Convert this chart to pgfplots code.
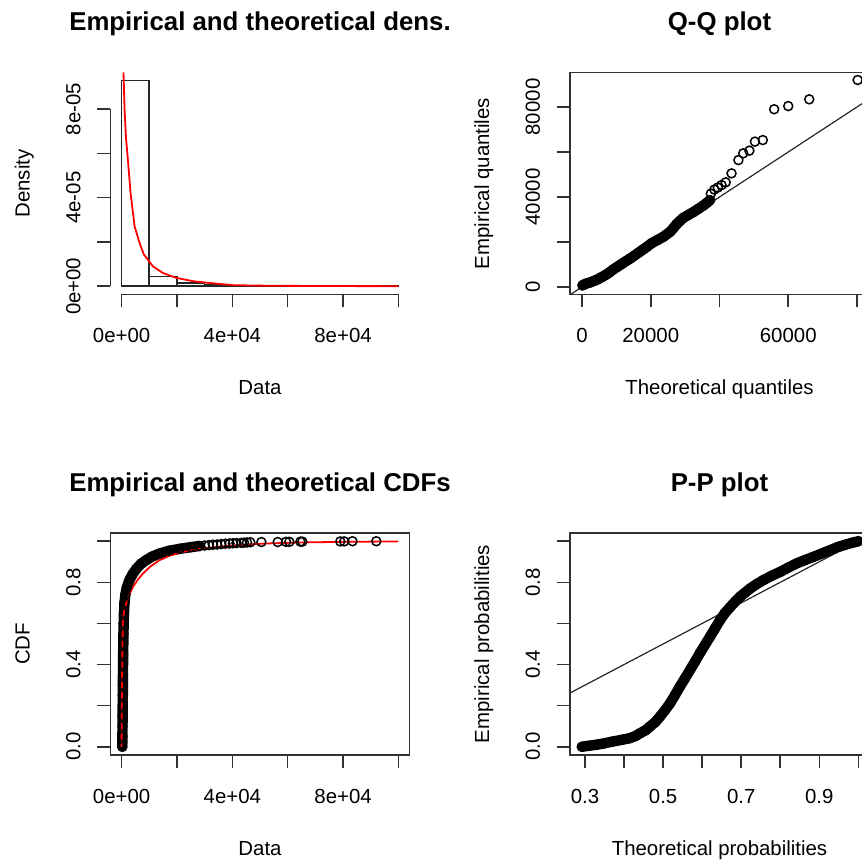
\documentclass[border=0pt]{standalone}
\usepackage{graphicx}
\usepackage{fontspec}
\setmainfont{Liberation Sans}
\usepackage{pgfplots}
\pgfplotsset{compat=1.18}
\newcommand\tickfont{\fontsize{10.2}{12}\selectfont}
\newcommand\titfont{\fontsize{12.9}{14}\selectfont\bfseries}
\newcommand\rl[1]{\rotatebox{90}{#1}\hspace*{8.25pt}}
\definecolor{axc}{gray}{0.2}
\pgfplotsset{
  rstyle/.style={
    scale only axis, width=149.5pt, height=111pt,
    clip=false,
    axis line style={line width=0.8pt, draw=axc},
    every tick/.style={line width=0.8pt, draw=axc},
    tick align=outside, tick pos=left,
    major tick length=6.5pt,
    scaled ticks=false,
    xticklabel style={anchor=base, font=\tickfont, inner sep=0pt},
    yticklabel style={anchor=east, font=\tickfont, inner sep=0pt},
    xticklabel shift=17.75pt, yticklabel shift=0pt,
    every axis x label/.style={at={(axis description cs:0.5,0)}, anchor=base, yshift=-50.25pt, font=\tickfont},
    every axis y label/.style={at={(axis description cs:-0.2709,0.5)}, rotate=90, anchor=base, font=\tickfont},
    every axis title/.style={at={(axis description cs:0.5,1)}, anchor=base, yshift=20.75pt, font=\titfont},
  },
  band/.style={black, line width=5.2pt, line cap=round, line join=round},
  circ/.style={only marks, mark=o, mark size=2.25pt, mark options={line width=0.75pt, draw=black}},
}
\begin{document}
\begin{tikzpicture}
\useasboundingbox (0,0) rectangle (431pt,431pt);

% ---------- Panel 1: density (y axis in units of 1e-5) ----------
\begin{axis}[rstyle, at={(55.25pt,283.75pt)}, anchor=south west,
  y filter/.expression={y*100000},
  xmin=-4000, xmax=104000, ymin=-0.37, ymax=9.65,
  axis x line*=bottom, axis y line*=left,
  x axis line style={-, shorten <=5.535pt, shorten >=5.535pt},
  y axis line style={-, shorten <=4.1pt, shorten >=18.28pt},
  xtick={0,20000,40000,60000,80000,100000},
  xticklabels={0e+00,,4e+04,,8e+04,},
  ytick={0,2,4,6,8},
  yticklabels={\rl{0e+00},,\rl{4e-05},,\rl{8e-05}},
  title={Empirical and theoretical dens.}, xlabel={Data}, ylabel={Density}]
\addplot[ybar interval, draw=black!85, fill=none, line width=0.8pt] coordinates {
 (0,9.29e-5) (10000,4.5e-6) (20000,1.5e-6) (30000,0.9e-6) (40000,0.2e-6)
 (50000,0.1e-6) (60000,0.15e-6) (70000,0.05e-6) (80000,0.1e-6) (90000,0.05e-6) (100000,0)};
\addplot[red, line width=0.9pt] coordinates {
 (700,9.65e-5) (1085,7.97e-5) (1600,6.7e-5) (2290,5.71e-5) (3250,4.21e-5) (4700,2.71e-5)
 (6500,1.96e-5) (8000,1.45e-5) (9530,1.2e-5) (11330,9.0e-6) (14940,6.0e-6) (19780,3.8e-6)
 (25800,2.3e-6) (34240,1.2e-6) (40280,0.5e-6) (50000,0.3e-6) (60000,0.2e-6) (80000,0.1e-6) (100000,0.05e-6)};
\end{axis}

% ---------- Panel 2: Q-Q ----------
\begin{axis}[rstyle, at={(285pt,283.75pt)}, anchor=south west,
  xmin=-3491, xmax=83491, ymin=-3333, ymax=95333,
  xtick={0,20000,40000,60000,80000},
  xticklabels={0,20000,,60000,},
  ytick={0,20000,40000,60000,80000},
  yticklabels={\rl{0},,\rl{40000},,\rl{80000}},
  title={Q-Q plot}, xlabel={Theoretical quantiles}, ylabel={Empirical quantiles}]
\addplot[black!85, line width=0.6pt] coordinates {(-3333,-3333) (83491,83491)};
\addplot[band] coordinates {
 (150,700) (600,1100) (1200,1500) (2300,2000) (3300,2600) (4300,3200) (5500,4200) (6800,5300)
 (8000,6500) (9100,7800) (10300,9000) (11500,10200) (12700,11400) (13960,12600) (15200,13900)
 (16400,15200) (17600,16500) (18820,17800) (20300,19500) (21730,20700) (23650,22300) (25600,24500)
 (26600,26200) (27550,28000) (28500,29400) (29470,30700) (30900,32000) (32380,33300) (33800,34700)
 (35290,36200) (36300,37400) (37240,38600)};
\addplot[circ] coordinates {
 (150,700) (600,1100) (1200,1500) (2300,2000) (3300,2600) (4300,3200) (5500,4200) (6800,5300)
 (8000,6500) (9100,7800) (10300,9000) (11500,10200) (12700,11400) (13960,12600) (15200,13900)
 (16400,15200) (17600,16500) (18820,17800) (20300,19500) (21730,20700) (23650,22300) (25600,24500)
 (26600,26200) (27550,28000) (28500,29400) (29470,30700) (30900,32000) (32380,33300) (33800,34700)
 (35290,36200) (36300,37400) (37240,38600)
 (37500,41500) (38500,43300) (39500,44200) (40600,45300) (41800,46500) (43500,50500) (45500,56400)
 (46900,59400) (48700,60600) (50300,64600) (52600,65300) (55900,79000) (60000,80400) (66100,83400) (80200,92000)};
\end{axis}

% ---------- Panel 3: CDF ----------
\begin{axis}[rstyle, at={(55.25pt,53.5pt)}, anchor=south west,
  xmin=-4000, xmax=104000, ymin=-0.04, ymax=1.04,
  xtick={0,20000,40000,60000,80000,100000},
  xticklabels={0e+00,,4e+04,,8e+04,},
  ytick={0,0.2,0.4,0.6,0.8,1.0},
  yticklabels={\rl{0.0},,\rl{0.4},,\rl{0.8},},
  every axis title/.append style={yshift=-0.25pt},
  title={Empirical and theoretical CDFs}, xlabel={Data}, ylabel={CDF}]
\addplot[band] coordinates {
 (250,0.0) (300,0.05) (340,0.1) (380,0.15) (410,0.2) (440,0.25) (470,0.3) (500,0.35) (530,0.4)
 (570,0.45) (620,0.5) (680,0.55) (760,0.6) (870,0.65) (1050,0.7) (1350,0.74) (1900,0.775)
 (2800,0.81) (4000,0.84) (5300,0.865) (7000,0.89) (8900,0.908) (11000,0.925) (13700,0.94)
 (17000,0.953) (21000,0.963) (25000,0.971) (28200,0.977)};
\addplot[circ] coordinates {
 (250,0.0) (300,0.05) (340,0.1) (380,0.15) (410,0.2) (440,0.25) (470,0.3) (500,0.35) (530,0.4)
 (570,0.45) (620,0.5) (680,0.55) (760,0.6) (870,0.65) (1050,0.7) (1350,0.74) (1900,0.775)
 (2800,0.81) (4000,0.84) (5300,0.865) (7000,0.89) (8900,0.908) (11000,0.925) (13700,0.94)
 (17000,0.953) (21000,0.963) (25000,0.971) (28200,0.977)
 (30000,0.979) (31500,0.981) (33000,0.983) (34500,0.984) (36000,0.986) (37500,0.988) (39000,0.989) (40200,0.99)
 (41500,0.991) (43300,0.992) (44200,0.993) (45300,0.994) (46500,0.995) (50500,0.996) (56400,0.996)
 (59400,0.997) (60600,0.997) (64600,0.998) (65300,0.998) (79000,0.999) (80400,0.999) (83400,1.0) (92000,1.0)};
\addplot[red, line width=0.9pt] coordinates {
 (0,0) (30,0.1) (80,0.2) (150,0.3) (230,0.4) (330,0.5) (480,0.617) (1000,0.665) (1690,0.697)
 (2800,0.74) (4100,0.778) (5800,0.812) (7720,0.843) (10500,0.878) (13740,0.908) (17500,0.93)
 (22170,0.948) (28000,0.962) (34240,0.972) (43000,0.982) (52330,0.989) (65000,0.994) (80000,0.997) (100000,0.999)};
\end{axis}

% ---------- Panel 4: P-P ----------
\begin{axis}[rstyle, at={(285pt,53.5pt)}, anchor=south west,
  xmin=0.2616, xmax=1.0273, ymin=-0.04, ymax=1.04,
  xtick={0.3,0.4,0.5,0.6,0.7,0.8,0.9,1.0},
  xticklabels={0.3,,0.5,,0.7,,0.9,},
  ytick={0,0.2,0.4,0.6,0.8,1.0},
  yticklabels={\rl{0.0},,\rl{0.4},,\rl{0.8},},
  every axis title/.append style={yshift=-0.25pt},
  title={P-P plot}, xlabel={Theoretical probabilities}, ylabel={Empirical probabilities}]
\addplot[black!85, line width=0.6pt] coordinates {(0.2616,0.2616) (1.0273,1.0273)};
\addplot[band] coordinates {
 (0.292,0.0) (0.31,0.005) (0.33,0.01) (0.35,0.017) (0.372,0.026) (0.395,0.034) (0.415,0.042)
 (0.43,0.053) (0.441,0.066) (0.455,0.08) (0.466,0.098) (0.48,0.12) (0.492,0.147) (0.505,0.178)
 (0.518,0.212) (0.53,0.25) (0.543,0.293) (0.556,0.333) (0.569,0.374) (0.582,0.415) (0.594,0.455)
 (0.607,0.495) (0.62,0.535) (0.633,0.576) (0.646,0.617) (0.658,0.65) (0.671,0.678) (0.684,0.705)
 (0.697,0.73) (0.71,0.75) (0.723,0.77) (0.74,0.792) (0.757,0.811) (0.778,0.832) (0.8,0.851)
 (0.821,0.872) (0.842,0.892) (0.863,0.908) (0.885,0.924) (0.906,0.94) (0.927,0.956) (0.948,0.972)
 (0.97,0.985) (0.985,0.993) (1.0,1.0)};
\addplot[circ] coordinates {
 (0.292,0.0) (0.31,0.005) (0.33,0.01) (0.35,0.017) (0.372,0.026) (0.395,0.034) (0.415,0.042)
 (0.43,0.053) (0.441,0.066) (0.455,0.08) (0.466,0.098) (0.48,0.12) (0.492,0.147) (0.505,0.178)
 (0.518,0.212) (0.53,0.25) (0.543,0.293) (0.556,0.333) (0.569,0.374) (0.582,0.415) (0.594,0.455)
 (0.607,0.495) (0.62,0.535) (0.633,0.576) (0.646,0.617) (0.658,0.65) (0.671,0.678) (0.684,0.705)
 (0.697,0.73) (0.71,0.75) (0.723,0.77) (0.74,0.792) (0.757,0.811) (0.778,0.832) (0.8,0.851)
 (0.821,0.872) (0.842,0.892) (0.863,0.908) (0.885,0.924) (0.906,0.94) (0.927,0.956) (0.948,0.972)
 (0.97,0.985) (0.985,0.993) (1.0,1.0)};
\end{axis}
\end{tikzpicture}
\end{document}
